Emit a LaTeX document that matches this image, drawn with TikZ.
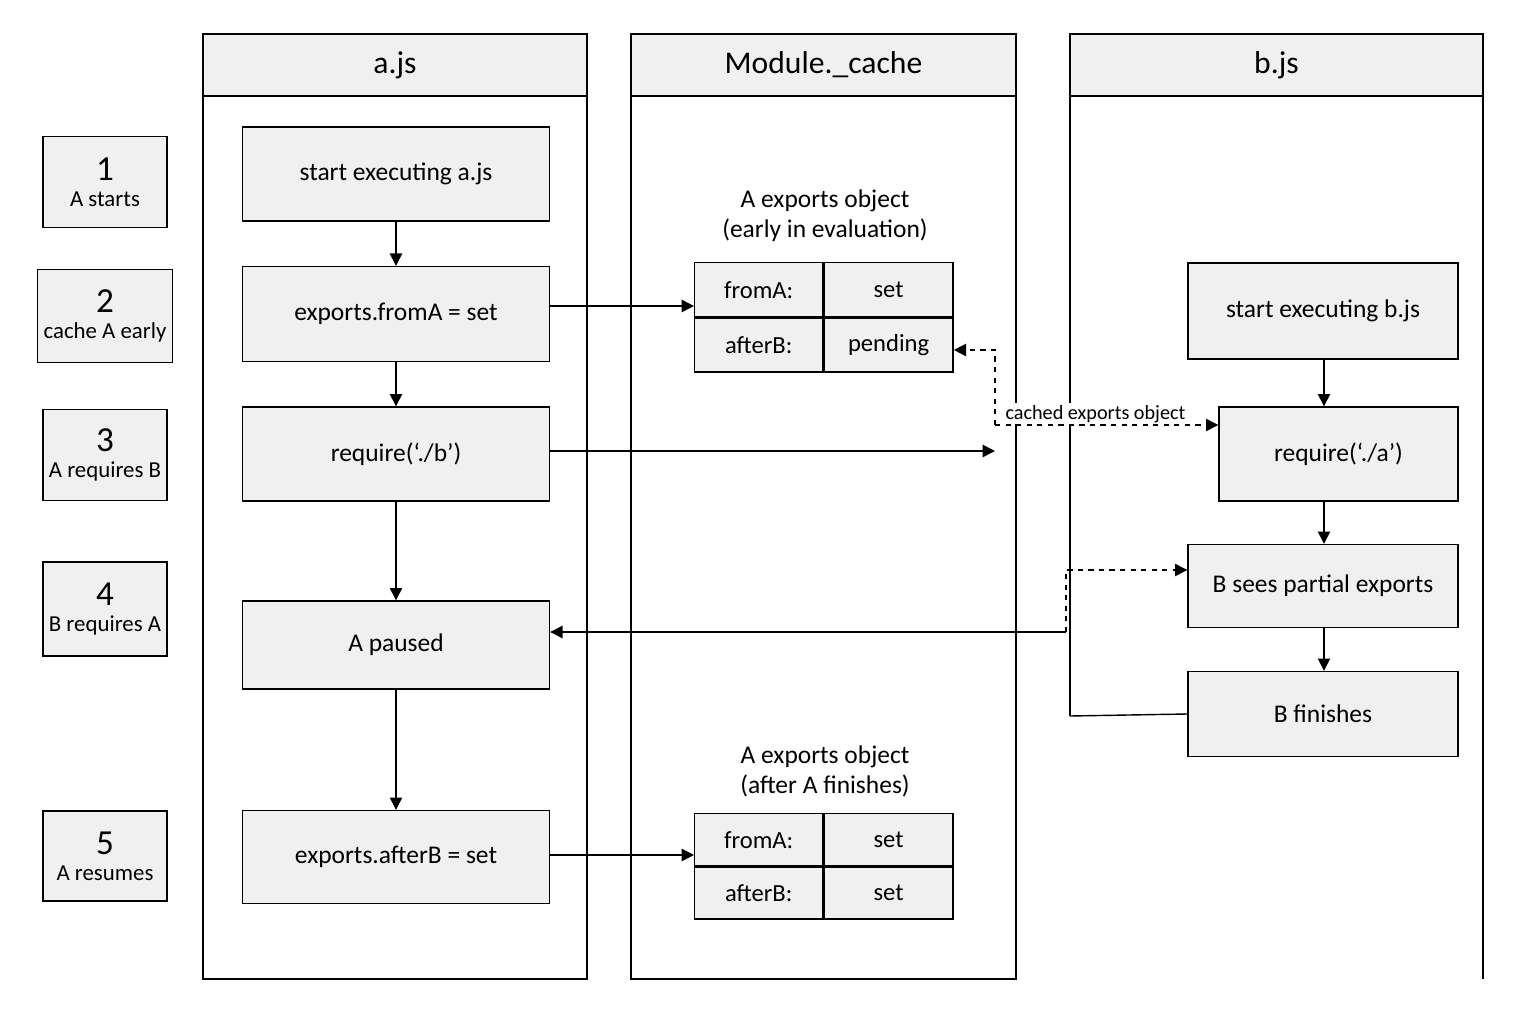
\documentclass[tikz,border=0pt]{standalone}
\usepackage{fontspec}
\setmainfont{Carlito}
\usetikzlibrary{arrows.meta}
\usetikzlibrary{positioning}
\tikzset{
  box/.style={draw,thick,fill=black!6,minimum height=#1},
  lanehead/.style={draw,thick,fill=black!6,minimum height=62*0.02cm,font=\fontsize{18}{20}\selectfont},
  stepbox/.style={draw,thick,fill=black!6,minimum width=124*0.02cm,align=center,font=\fontsize{13}{15}\selectfont},
  txt/.style={font=\fontsize{14.5}{17}\selectfont},
  cell/.style={draw,thick,fill=black!6,minimum height=54*0.02cm,font=\fontsize{14}{16}\selectfont},
  flow/.style={thick,-{Triangle[length=7pt,width=7pt]}},
  dflow/.style={flow,dashed}
}
\begin{document}
\begin{tikzpicture}[x=0.02cm,y=-0.02cm]
\useasboundingbox (0,0) rectangle (1536,1024);
% lanes
\draw[thick] (203,34) rectangle (587,979);
\draw[thick] (631,34) rectangle (1016,979);
\draw[thick] (1070,716) -- (1070,34) -- (1483,34) -- (1483,979);
\node[lanehead,minimum width=384*0.02cm] (laneA) at (395,65) {a.js};
\node[lanehead,minimum width=385*0.02cm] (laneC) at (823.5,65) {Module.\_cache};
\node[lanehead,minimum width=413*0.02cm] (laneB) at (1276.5,65) {b.js};
% steps
\node[stepbox,minimum height=91*0.02cm] (s1) at (105,182) {{\fontsize{20}{22}\selectfont 1}\\A starts};
\node[stepbox,minimum height=93*0.02cm] (s2) at (105,316) {{\fontsize{20}{22}\selectfont 2}\\cache A early};
\node[stepbox,minimum height=91*0.02cm] (s3) at (105,455) {{\fontsize{20}{22}\selectfont 3}\\A requires B};
\node[stepbox,minimum height=94*0.02cm] (s4) at (105,609) {{\fontsize{20}{22}\selectfont 4}\\B requires A};
\node[stepbox,minimum height=90*0.02cm] (s5) at (105,856) {{\fontsize{20}{22}\selectfont 5}\\A resumes};
% a.js
\begin{scope}[every node/.append style={box,txt,minimum width=307*0.02cm}]
\node[minimum height=94*0.02cm] (aStart) at (396,174) {start executing a.js};
\node[minimum height=95*0.02cm] (aFrom) at (396,314) {exports.fromA = set};
\node[minimum height=94*0.02cm] (aReq) at (396,454) {require(‘./b’)};
\node[minimum height=88*0.02cm] (aPause) at (396,645) {A paused};
\node[minimum height=93*0.02cm] (aAfter) at (396,857) {exports.afterB = set};
\end{scope}
\draw[flow] (aStart) -- (aFrom);
\draw[flow] (aFrom) -- (aReq);
\draw[flow] (aReq) -- (aPause);
\draw[flow] (aPause) -- (aAfter);
% cache tables
\node[txt,align=center] (t1) at (825,216) {A exports object\\(early in evaluation)};
\node[cell,minimum width=128*0.02cm,anchor=north west] (k1a) at (694,262) {fromA:};
\node[cell,minimum width=129*0.02cm,anchor=west] (v1a) at (k1a.east) {set};
\node[cell,minimum width=128*0.02cm,anchor=north] (k1b) at (k1a.south) {afterB:};
\node[cell,minimum width=129*0.02cm,anchor=west] (v1b) at (k1b.east) {pending};
\node[txt,align=center] (t2) at (825,771) {A exports object\\(after A finishes)};
\node[cell,minimum width=128*0.02cm,minimum height=52*0.02cm,anchor=north west] (k2a) at (694,813) {fromA:};
\node[cell,minimum width=129*0.02cm,minimum height=52*0.02cm,anchor=west] (v2a) at (k2a.east) {set};
\node[cell,minimum width=128*0.02cm,minimum height=52*0.02cm,anchor=north] (k2b) at (k2a.south) {afterB:};
\node[cell,minimum width=129*0.02cm,minimum height=52*0.02cm,anchor=west] (v2b) at (k2b.east) {set};
% b.js
\begin{scope}[every node/.append style={box,txt}]
\node[minimum width=270*0.02cm,minimum height=96*0.02cm] (bStart) at (1323,311) {start executing b.js};
\node[minimum width=239*0.02cm,minimum height=94*0.02cm] (bReq) at (1338.5,454) {require(‘./a’)};
\node[minimum width=270*0.02cm,minimum height=83*0.02cm] (bSees) at (1323,586) {B sees partial exports};
\node[minimum width=270*0.02cm,minimum height=85*0.02cm] (bDone) at (1323,714) {B finishes};
\end{scope}
\draw[flow] (bStart.south -| 1324,0) -- (bReq.north -| 1324,0);
\draw[flow] (bReq.south -| 1324,0) -- (bSees.north -| 1324,0);
\draw[flow] (bSees.south -| 1324,0) -- (bDone.north -| 1324,0);
\draw[thick] (1070,716) -- (bDone.west);
% cross arrows
\coordinate (hub) at (995,451);
\coordinate (split) at (995,425);
\coordinate (turn) at (1066,632);
\draw[flow] (aFrom.east |- 0,306) -- (k1a.west |- 0,306);
\draw[flow] (aReq.east |- hub) -- (hub);
\draw[dflow] (split) -- (995,350) -- (v1b.east |- 0,350);
\draw[dflow] (split) -- (bReq.west |- split) node[pos=0.45,above,font=\fontsize{11.5}{13}\selectfont,fill=white,inner sep=1pt] (lbl) {cached exports object};
\draw[dflow] (turn) -- (1066,570) -- (bSees.west |- 0,570);
\draw[flow] (turn) -- (aPause.east |- turn);
\draw[flow] (aAfter.east |- 0,855) -- (k2a.west |- 0,855);
\end{tikzpicture}
\end{document}
